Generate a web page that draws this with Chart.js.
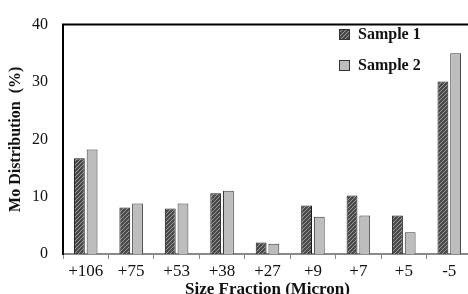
<!DOCTYPE html>
<html>
<head>
<meta charset="utf-8">
<script src="https://cdn.jsdelivr.net/npm/chart.js@4"></script>
<style>
  html, body { margin: 0; padding: 0; background: #fff; overflow: hidden; }
  #wrap { position: relative; width: 468px; height: 294px; overflow: hidden; }
  #box { position: absolute; left: 0; top: 0; width: 476px; height: 298px; }
</style>
</head>
<body>
<div id="wrap"><div id="box"><canvas id="moChart"></canvas></div></div>
<script>
const categories = ['+106', '+75', '+53', '+38', '+27', '+9', '+7', '+5', '-5'];
const sample1 = [16.7, 8.1, 7.95, 10.6, 2.0, 8.45, 10.2, 6.7, 30.1];
const sample2 = [18.2, 8.8, 8.8, 11.05, 1.8, 6.5, 6.7, 3.8, 35.0];
const seriesNames = ['Sample 1', 'Sample 2'];

function hatch() {
    const c = document.createElement('canvas');
    c.width = 4; c.height = 4;
    const g = c.getContext('2d');
    g.fillStyle = '#4a4a4a';
    g.fillRect(0, 0, 4, 4);
    g.strokeStyle = '#9a9a9a';
    g.lineWidth = 1;
    g.beginPath();
    g.moveTo(-1, 5); g.lineTo(5, -1);
    g.moveTo(-1, 1); g.lineTo(1, -1);
    g.moveTo(3, 5); g.lineTo(5, 3);
    g.stroke();
    return g.createPattern(c, 'repeat');
}

const hatchFill = hatch();

// top border + legend inside the plot
const extras = {
    id: 'extras',
    afterDraw(chart) {
        const ctx = chart.ctx;
        const a = chart.chartArea;
        ctx.save();
        ctx.strokeStyle = '#000';
        ctx.lineWidth = 2;
        ctx.beginPath();
        ctx.moveTo(a.left - 1, a.top);
        ctx.lineTo(a.right + 10, a.top);
        ctx.stroke();

        const ys = [34, 65];
        chart.data.datasets.forEach(function (ds, i) {
            ctx.fillStyle = ds.backgroundColor;
            ctx.fillRect(339, ys[i] - 5, 11, 11);
            ctx.strokeStyle = '#333';
            ctx.lineWidth = 1;
            ctx.strokeRect(339.5, ys[i] - 4.5, 10, 10);
            ctx.fillStyle = '#111';
            ctx.font = 'bold 16px "Liberation Serif", serif';
            ctx.textBaseline = 'middle';
            ctx.fillText(ds.label, 358, ys[i] + 1);
        });
        ctx.restore();
    }
};

new Chart(document.getElementById('moChart').getContext('2d'), {
    type: 'bar',
    data: {
        labels: categories,
        datasets: [{
            label: seriesNames[0],
            data: sample1,
            backgroundColor: hatchFill,
            borderColor: '#1a1a1a',
            borderWidth: 1,
            categoryPercentage: 0.56,
            barPercentage: 0.85
        }, {
            label: seriesNames[1],
            data: sample2,
            backgroundColor: '#bdbdbd',
            borderColor: '#3a3a3a',
            borderWidth: 1,
            categoryPercentage: 0.56,
            barPercentage: 0.85
        }]
    },
    options: {
        responsive: true,
        maintainAspectRatio: false,
        animation: false,
        layout: { padding: { top: 13, right: 4, left: 0, bottom: 0 } },
        plugins: {
            legend: { display: false },
            tooltip: { enabled: false }
        },
        scales: {
            x: {
                grid: {
                    display: true,
                    drawOnChartArea: false,
                    drawTicks: true,
                    tickLength: 5,
                    color: '#8a8a8a',
                    lineWidth: 1
                },
                border: { display: true, color: '#8a8a8a', width: 2 },
                ticks: {
                    color: '#111',
                    padding: 2,
                    maxRotation: 0,
                    autoSkip: false,
                    font: { family: '"Liberation Serif", serif', size: 17 }
                },
                title: {
                    display: true,
                    text: 'Size Fraction (Micron)',
                    color: '#111',
                    padding: { top: 0, bottom: 0 },
                    font: { family: '"Liberation Serif", serif', size: 17, weight: 'bold', lineHeight: 1 }
                },
                afterFit: function (s) { s.height = 44; }
            },
            y: {
                min: 0,
                max: 40,
                grid: { display: false, drawTicks: false },
                border: { display: true, color: '#000', width: 2 },
                ticks: {
                    stepSize: 10,
                    color: '#111',
                    padding: 15,
                    font: { family: '"Liberation Serif", serif', size: 16 }
                },
                title: {
                    display: true,
                    text: 'Mo Distribution  (%)',
                    color: '#111',
                    padding: { top: 8, bottom: 0 },
                    font: { family: '"Liberation Serif", serif', size: 16, weight: 'bold', lineHeight: 1 }
                },
                afterFit: function (s) { s.width = 63; }
            }
        }
    },
    plugins: [extras]
});
</script>
</body>
</html>
